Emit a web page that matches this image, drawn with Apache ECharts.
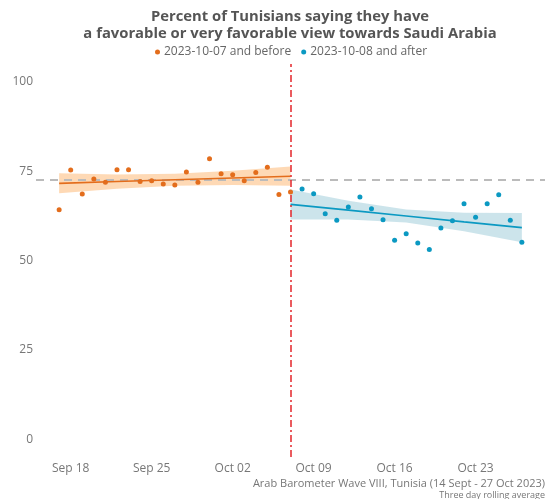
<!DOCTYPE html>
<html>
<head>
<meta charset="utf-8">
<script src="https://cdn.jsdelivr.net/npm/echarts@6/dist/echarts.min.js"></script>
<style>html,body{margin:0;padding:0;background:#fff}#c{width:549px;height:499px}</style>
</head>
<body>
<div id="c"></div>
<script>
// ---- data ----
const preDates = ['2023-09-17','2023-09-18','2023-09-19','2023-09-20','2023-09-21','2023-09-22','2023-09-23','2023-09-24','2023-09-25','2023-09-26','2023-09-27','2023-09-28','2023-09-29','2023-09-30','2023-10-01','2023-10-02','2023-10-03','2023-10-04','2023-10-05','2023-10-06','2023-10-07'];
const preValues = [64.2,75.3,68.6,72.8,71.9,75.4,75.4,72.1,72.3,71.4,71.1,74.8,71.9,78.5,74.3,74.0,72.3,74.6,76.1,68.5,69.2];
const postDates = ['2023-10-08','2023-10-09','2023-10-10','2023-10-11','2023-10-12','2023-10-13','2023-10-14','2023-10-15','2023-10-16','2023-10-17','2023-10-18','2023-10-19','2023-10-20','2023-10-21','2023-10-22','2023-10-23','2023-10-24','2023-10-25','2023-10-26','2023-10-27'];
const postValues = [70.0,68.7,63.1,61.3,65.0,67.8,64.5,61.4,55.7,57.5,54.9,53.1,59.1,61.1,65.9,62.1,65.9,68.4,61.3,55.1];

// fitted trend lines and confidence bands
const preFitDates = ['2023-09-17','2023-09-22','2023-09-27','2023-10-02','2023-10-07'];
const preFit = [71.6,72.1,72.6,73.1,73.6];
const preLower = [68.8,70.1,70.9,71.1,70.9];
const preUpper = [74.4,74.1,74.3,75.1,76.3];
const postFitDates = ['2023-10-07','2023-10-12','2023-10-17','2023-10-22','2023-10-27'];
const postFit = [65.7,64.1,62.45,60.8,59.2];
const postLower = [61.5,61.5,60.65,58.2,55.1];
const postUpper = [69.9,66.7,64.25,63.4,63.3];

const preMean = 72.6;
const cutoffDate = '2023-10-07';
const xMinDate = '2023-09-15', xMaxDate = '2023-10-29';
const xTickDates = ['2023-09-18','2023-09-25','2023-10-02','2023-10-09','2023-10-16','2023-10-23'];
const xTickLabels = ['Sep 18','Sep 25','Oct 02','Oct 09','Oct 16','Oct 23'];
const yTicks = [0,25,50,75,100];
const seriesNames = ['2023-10-07 and before','2023-10-08 and after'];
const titleText = 'Percent of Tunisians saying they have\na favorable or very favorable view towards Saudi Arabia';
const sourceText = 'Arab Barometer Wave VIII, Tunisia (14 Sept - 27 Oct 2023)';
const noteText = 'Three day rolling average';

// ---- helpers ----
const base = Date.UTC(2023,8,14);
function day(s){const p=s.split('-').map(Number);return Math.round((Date.UTC(p[0],p[1]-1,p[2])-base)/86400000);}
const zip = (ds,vs)=>ds.map((d,i)=>[day(d),vs[i]]);

const ORANGE='#E36D1C', BLUE='#0B99C2';
const FONT='"Open Sans", sans-serif';

function bandSeries(dates, lo, hi, color){
  const data = dates.map((d,i)=>[day(d),lo[i],hi[i]]);
  return {
    type:'custom', silent:true, z:1,
    data: data,
    encode:{x:0,y:[1,2]},
    renderItem:function(params, api){
      if(params.dataIndex!==0) return null;
      const top = data.map(r=>api.coord([r[0],r[2]]));
      const bot = data.map(r=>api.coord([r[0],r[1]])).reverse();
      return {type:'polygon', shape:{points:top.concat(bot)}, style:{fill:color}};
    }
  };
}

const tickMap = {};
xTickDates.forEach((d,i)=>tickMap[day(d)]=xTickLabels[i]);

const chart = echarts.init(document.getElementById('c'), null, {renderer:'canvas'});
chart.setOption({
  animation:false,
  backgroundColor:'#fff',
  grid:{left:36, right:4, top:64, bottom:42, containLabel:false},
  xAxis:{
    type:'value', min:day(xMinDate), max:day(xMaxDate),
    axisLine:{show:false}, axisTick:{show:false}, splitLine:{show:false},
    axisLabel:{customValues:xTickDates.map(day), formatter:v=>tickMap[v]||'', color:'#777', fontSize:12, fontFamily:FONT, margin:6}
  },
  yAxis:{
    type:'value', min:-5, max:105,
    axisLine:{show:false}, axisTick:{show:false}, splitLine:{show:false},
    axisLabel:{customValues:yTicks, color:'#777', fontSize:12, fontFamily:FONT, margin:3}
  },
  legend:{
    data:seriesNames.map(n=>({name:n, icon:'circle'})),
    top:41, left:150, itemWidth:5, itemHeight:5, itemGap:10,
    textStyle:{color:'#666', fontSize:12, fontFamily:FONT, padding:[0,0,0,-1]}
  },
  graphic:[
    {type:'text', x:290, y:8, style:{text:titleText, textAlign:'center', fill:'#555', font:'bold 14.8px '+FONT, lineHeight:17}},
    {type:'text', x:545, y:478, style:{text:sourceText, textAlign:'right', fill:'#777', font:'11px '+FONT}},
    {type:'text', x:545, y:491, style:{text:noteText, textAlign:'right', fill:'#777', font:'9px '+FONT}}
  ],
  series:[
    bandSeries(preFitDates, preLower, preUpper, 'rgba(252,170,90,0.45)'),
    bandSeries(postFitDates, postLower, postUpper, 'rgba(65,155,180,0.27)'),
    {type:'line', silent:true, z:3, data:zip(preFitDates,preFit), showSymbol:false, lineStyle:{color:ORANGE, width:1.6}},
    {type:'line', silent:true, z:3, data:zip(postFitDates,postFit), showSymbol:false, lineStyle:{color:BLUE, width:1.6}},
    {name:seriesNames[0], type:'scatter', z:5, data:zip(preDates,preValues), symbolSize:5, itemStyle:{color:ORANGE, opacity:1},
      markLine:{silent:true, symbol:'none', label:{show:false}, z:2,
        lineStyle:{color:'#BBBBBB', width:2, type:[8,6]},
        data:[{yAxis:preMean}]}},
    {name:seriesNames[1], type:'scatter', z:5, data:zip(postDates,postValues), symbolSize:5, itemStyle:{color:BLUE, opacity:1},
      markLine:{silent:true, symbol:'none', label:{show:false}, z:4,
        lineStyle:{color:'#E3262B', width:1.5, type:[7,3,2,3]},
        data:[{xAxis:day(cutoffDate)}]}}
  ]
});
</script>
</body>
</html>
